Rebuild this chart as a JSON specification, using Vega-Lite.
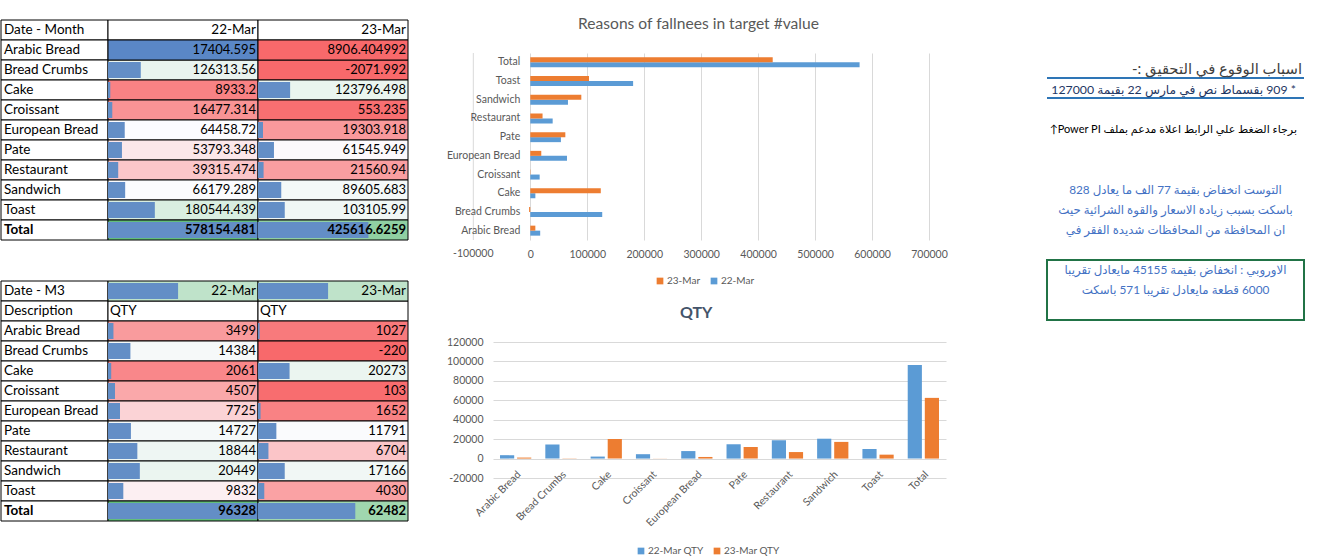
{
  "$schema": "https://vega.github.io/schema/vega-lite/v6.json",
  "background": "white",
  "padding": {"left": 0, "top": 15, "right": 0, "bottom": 0},
  "config": {
    "view": {"stroke": null},
    "font": "Lato"
  },
  "datasets": {
    "t1": [
      {"item": "Arabic Bread", "col": "22-Mar", "value": 17404.595},
      {"item": "Arabic Bread", "col": "23-Mar", "value": 8906.404992},
      {"item": "Bread Crumbs", "col": "22-Mar", "value": 126313.56},
      {"item": "Bread Crumbs", "col": "23-Mar", "value": -2071.992},
      {"item": "Cake", "col": "22-Mar", "value": 8933.2},
      {"item": "Cake", "col": "23-Mar", "value": 123796.498},
      {"item": "Croissant", "col": "22-Mar", "value": 16477.314},
      {"item": "Croissant", "col": "23-Mar", "value": 553.235},
      {"item": "European Bread", "col": "22-Mar", "value": 64458.72},
      {"item": "European Bread", "col": "23-Mar", "value": 19303.918},
      {"item": "Pate", "col": "22-Mar", "value": 53793.348},
      {"item": "Pate", "col": "23-Mar", "value": 61545.949},
      {"item": "Restaurant", "col": "22-Mar", "value": 39315.474},
      {"item": "Restaurant", "col": "23-Mar", "value": 21560.94},
      {"item": "Sandwich", "col": "22-Mar", "value": 66179.289},
      {"item": "Sandwich", "col": "23-Mar", "value": 89605.683},
      {"item": "Toast", "col": "22-Mar", "value": 180544.439},
      {"item": "Toast", "col": "23-Mar", "value": 103105.99},
      {"item": "Total", "col": "22-Mar", "value": 578154.481},
      {"item": "Total", "col": "23-Mar", "value": 425616.6259}
    ],
    "t1h": [
      {"item": "Date - Month", "col": "22-Mar", "label": "22-Mar"},
      {"item": "Date - Month", "col": "23-Mar", "label": "23-Mar"}
    ],
    "t2": [
      {"item": "Arabic Bread", "col": "22-Mar", "value": 3499},
      {"item": "Arabic Bread", "col": "23-Mar", "value": 1027},
      {"item": "Bread Crumbs", "col": "22-Mar", "value": 14384},
      {"item": "Bread Crumbs", "col": "23-Mar", "value": -220},
      {"item": "Cake", "col": "22-Mar", "value": 2061},
      {"item": "Cake", "col": "23-Mar", "value": 20273},
      {"item": "Croissant", "col": "22-Mar", "value": 4507},
      {"item": "Croissant", "col": "23-Mar", "value": 103},
      {"item": "European Bread", "col": "22-Mar", "value": 7725},
      {"item": "European Bread", "col": "23-Mar", "value": 1652},
      {"item": "Pate", "col": "22-Mar", "value": 14727},
      {"item": "Pate", "col": "23-Mar", "value": 11791},
      {"item": "Restaurant", "col": "22-Mar", "value": 18844},
      {"item": "Restaurant", "col": "23-Mar", "value": 6704},
      {"item": "Sandwich", "col": "22-Mar", "value": 20449},
      {"item": "Sandwich", "col": "23-Mar", "value": 17166},
      {"item": "Toast", "col": "22-Mar", "value": 9832},
      {"item": "Toast", "col": "23-Mar", "value": 4030},
      {"item": "Total", "col": "22-Mar", "value": 96328},
      {"item": "Total", "col": "23-Mar", "value": 62482}
    ],
    "t2h": [
      {"item": "Date - M3", "col": "22-Mar", "label": "22-Mar", "serial": 45007},
      {"item": "Date - M3", "col": "23-Mar", "label": "23-Mar", "serial": 45008},
      {"item": "Description", "col": "22-Mar", "label": "QTY"},
      {"item": "Description", "col": "23-Mar", "label": "QTY"}
    ],
    "notes": [
      {"row": 4, "kind": "heading", "text": "\u202bاسباب الوقوع في التحقيق :-\u202c"},
      {"row": 5, "kind": "claim", "text": "\u202b* 909 بقسماط نص في مارس 22 بقيمة 127000\u202c"},
      {"row": 7, "kind": "hint", "text": "\u202bبرجاء الضغط علي الرابط اعلاة مدعم بملف  Power PI↑\u202c"},
      {"row": 10, "kind": "note", "text": "\u202bالتوست انخفاض بقيمة 77 الف ما يعادل 828\u202c"},
      {"row": 11, "kind": "note", "text": "\u202bباسكت بسبب زيادة الاسعار والقوة الشرائية حيث\u202c"},
      {"row": 12, "kind": "note", "text": "\u202bان المحافظة من المحافظات شديدة الفقر في\u202c"},
      {"row": 14, "kind": "finding", "text": "\u202bالاوروبي :  انخفاض بقيمة 45155 مايعادل تقريبا\u202c"},
      {"row": 15, "kind": "finding", "text": "\u202b6000 قطعة مايعادل تقريبا 571 باسكت\u202c"}
    ]
  },
  "hconcat": [
    {
      "hconcat": [
        {
          "vconcat": [
            {
              "hconcat": [
                {
                  "width": 107, "height": 225,
                  "encoding": {"y": {"field": "item", "type": "ordinal", "axis": null, "scale": {"domain": ["Date - Month", "Arabic Bread", "Bread Crumbs", "Cake", "Croissant", "European Bread", "Pate", "Restaurant", "Sandwich", "Toast", "Total"], "paddingInner": 0, "paddingOuter": 0.125, "align": 1}}},
                  "layer": [
                    {"data": {"name": "t1h"}, "transform": [{"filter": "datum.col === '22-Mar'"}], "mark": {"type": "rect", "fill": "white", "stroke": "black", "strokeWidth": 1}},
                    {"data": {"name": "t1"}, "transform": [{"filter": "datum.col === '22-Mar'"}], "mark": {"type": "rect", "fill": "white", "stroke": "black", "strokeWidth": 1}},
                    {"data": {"name": "t1h"}, "transform": [{"filter": "datum.col === '22-Mar'"}], "mark": {"type": "text", "align": "left", "dx": 3, "fontSize": 13.5, "color": "black"}, "encoding": {"x": {"value": 0}, "text": {"field": "item", "type": "nominal"}}},
                    {"data": {"name": "t1"}, "transform": [{"filter": "datum.col === '22-Mar'"}], "mark": {"type": "text", "align": "left", "dx": 3, "fontSize": 13.5, "color": "black", "fontWeight": {"expr": "datum.item === 'Total' ? 'bold' : 'normal'"}}, "encoding": {"x": {"value": 0}, "text": {"field": "item", "type": "nominal"}}}
                  ]
                },
                {
                  "width": 150, "height": 225,
                  "encoding": {"y": {"field": "item", "type": "ordinal", "axis": null, "scale": {"domain": ["Date - Month", "Arabic Bread", "Bread Crumbs", "Cake", "Croissant", "European Bread", "Pate", "Restaurant", "Sandwich", "Toast", "Total"], "paddingInner": 0, "paddingOuter": 0.125, "align": 1}}},
                  "layer": [
                    {"data": {"name": "t1h"}, "transform": [{"filter": "datum.col === '22-Mar'"}], "mark": {"type": "rect", "fill": "white", "stroke": "black", "strokeWidth": 1}},
                    {"data": {"name": "t1"}, "transform": [{"filter": "datum.col === '22-Mar' && datum.item !== 'Arabic Bread'"}], "mark": {"type": "rect", "stroke": "black", "strokeWidth": 1}, "encoding": {"fill": {"field": "value", "type": "quantitative", "legend": null, "scale": {"domain": [-2071.992, 63001.5, 578154.481], "range": ["#F8696B", "#FCFCFF", "#63BE7B"], "interpolate": "rgb"}}}},
                    {"data": {"name": "t1"}, "transform": [{"filter": "datum.col === '22-Mar' && datum.item === 'Arabic Bread'"}], "mark": {"type": "rect", "fill": "#5A87C6", "stroke": "black", "strokeWidth": 1}},
                    {"data": {"name": "t1"}, "transform": [{"filter": "datum.col === '22-Mar' && datum.item !== 'Arabic Bread'"}], "mark": {"type": "bar", "fill": "#638EC6", "height": {"band": 0.8}}, "encoding": {"x": {"field": "value", "type": "quantitative", "axis": null, "scale": {"domain": [0, 578154.481], "clamp": true, "nice": false, "zero": false}}}},
                    {"data": {"name": "t1h"}, "transform": [{"filter": "datum.col === '22-Mar'"}], "mark": {"type": "text", "align": "right", "dx": -2, "fontSize": 13.5, "color": "black"}, "encoding": {"x": {"value": "width"}, "text": {"field": "label", "type": "nominal"}}},
                    {"data": {"name": "t1"}, "transform": [{"filter": "datum.col === '22-Mar'"}], "mark": {"type": "text", "align": "right", "dx": -2, "fontSize": 13, "color": "black", "fontWeight": {"expr": "datum.item === 'Total' ? 'bold' : 'normal'"}}, "encoding": {"x": {"value": "width"}, "text": {"field": "value", "type": "nominal"}}}
                  ]
                },
                {
                  "width": 150, "height": 225,
                  "encoding": {"y": {"field": "item", "type": "ordinal", "axis": null, "scale": {"domain": ["Date - Month", "Arabic Bread", "Bread Crumbs", "Cake", "Croissant", "European Bread", "Pate", "Restaurant", "Sandwich", "Toast", "Total"], "paddingInner": 0, "paddingOuter": 0.125, "align": 1}}},
                  "layer": [
                    {"data": {"name": "t1h"}, "transform": [{"filter": "datum.col === '23-Mar'"}], "mark": {"type": "rect", "fill": "white", "stroke": "black", "strokeWidth": 1}},
                    {"data": {"name": "t1"}, "transform": [{"filter": "datum.col === '23-Mar' && datum.item !== 'Arabic Bread'"}], "mark": {"type": "rect", "stroke": "black", "strokeWidth": 1}, "encoding": {"fill": {"field": "value", "type": "quantitative", "legend": null, "scale": {"domain": [-2071.992, 63001.5, 578154.481], "range": ["#F8696B", "#FCFCFF", "#63BE7B"], "interpolate": "rgb"}}}},
                    {"data": {"name": "t1"}, "transform": [{"filter": "datum.col === '23-Mar' && datum.item === 'Arabic Bread'"}], "mark": {"type": "rect", "fill": "#F8696B", "stroke": "black", "strokeWidth": 1}},
                    {"data": {"name": "t1"}, "transform": [{"filter": "datum.col === '23-Mar' && datum.item !== 'Arabic Bread'"}], "mark": {"type": "bar", "fill": "#638EC6", "height": {"band": 0.8}}, "encoding": {"x": {"field": "value", "type": "quantitative", "axis": null, "scale": {"domain": [0, 578154.481], "clamp": true, "nice": false, "zero": false}}}},
                    {"data": {"name": "t1h"}, "transform": [{"filter": "datum.col === '23-Mar'"}], "mark": {"type": "text", "align": "right", "dx": -2, "fontSize": 13.5, "color": "black"}, "encoding": {"x": {"value": "width"}, "text": {"field": "label", "type": "nominal"}}},
                    {"data": {"name": "t1"}, "transform": [{"filter": "datum.col === '23-Mar'"}], "mark": {"type": "text", "align": "right", "dx": -2, "fontSize": 13, "color": "black", "fontWeight": {"expr": "datum.item === 'Total' ? 'bold' : 'normal'"}}, "encoding": {"x": {"value": "width"}, "text": {"field": "value", "type": "nominal"}}}
                  ]
                }
              ],
              "spacing": 0,
              "bounds": "flush",
              "resolve": {"scale": {"x": "independent", "y": "independent", "color": "independent", "fill": "independent"}, "legend": {"color": "independent", "fill": "independent"}}
            },
            {
              "hconcat": [
                {
                  "width": 107, "height": 240,
                  "encoding": {"y": {"field": "item", "type": "ordinal", "axis": null, "scale": {"domain": ["Date - M3", "Description", "Arabic Bread", "Bread Crumbs", "Cake", "Croissant", "European Bread", "Pate", "Restaurant", "Sandwich", "Toast", "Total"], "paddingInner": 0, "paddingOuter": 0}}},
                  "layer": [
                    {"data": {"name": "t2h"}, "transform": [{"filter": "datum.col === '22-Mar'"}], "mark": {"type": "rect", "fill": "white", "stroke": "black", "strokeWidth": 1}},
                    {"data": {"name": "t2"}, "transform": [{"filter": "datum.col === '22-Mar'"}], "mark": {"type": "rect", "fill": "white", "stroke": "black", "strokeWidth": 1}},
                    {"data": {"name": "t2h"}, "transform": [{"filter": "datum.col === '22-Mar'"}], "mark": {"type": "text", "align": "left", "dx": 3, "fontSize": 13.5, "color": "black"}, "encoding": {"x": {"value": 0}, "text": {"field": "item", "type": "nominal"}}},
                    {"data": {"name": "t2"}, "transform": [{"filter": "datum.col === '22-Mar'"}], "mark": {"type": "text", "align": "left", "dx": 3, "fontSize": 13.5, "color": "black", "fontWeight": {"expr": "datum.item === 'Total' ? 'bold' : 'normal'"}}, "encoding": {"x": {"value": 0}, "text": {"field": "item", "type": "nominal"}}}
                  ]
                },
                {
                  "width": 150, "height": 240,
                  "encoding": {"y": {"field": "item", "type": "ordinal", "axis": null, "scale": {"domain": ["Date - M3", "Description", "Arabic Bread", "Bread Crumbs", "Cake", "Croissant", "European Bread", "Pate", "Restaurant", "Sandwich", "Toast", "Total"], "paddingInner": 0, "paddingOuter": 0}}},
                  "layer": [
                    {"data": {"name": "t2h"}, "transform": [{"filter": "datum.col === '22-Mar' && !isValid(datum.serial)"}], "mark": {"type": "rect", "fill": "white", "stroke": "black", "strokeWidth": 1}},
                    {"data": {"name": "t2h"}, "transform": [{"filter": "datum.col === '22-Mar' && isValid(datum.serial)"}], "mark": {"type": "rect", "stroke": "black", "strokeWidth": 1}, "encoding": {"fill": {"field": "serial", "type": "quantitative", "legend": null, "scale": {"domain": [-220, 10811.5, 96328], "range": ["#F8696B", "#FCFCFF", "#63BE7B"], "interpolate": "rgb"}}}},
                    {"data": {"name": "t2"}, "transform": [{"filter": "datum.col === '22-Mar'"}], "mark": {"type": "rect", "stroke": "black", "strokeWidth": 1}, "encoding": {"fill": {"field": "value", "type": "quantitative", "legend": null, "scale": {"domain": [-220, 10811.5, 96328], "range": ["#F8696B", "#FCFCFF", "#63BE7B"], "interpolate": "rgb"}}}},
                    {"data": {"name": "t2h"}, "transform": [{"filter": "datum.col === '22-Mar' && isValid(datum.serial)"}], "mark": {"type": "bar", "fill": "#638EC6", "height": {"band": 0.8}}, "encoding": {"x": {"field": "serial", "type": "quantitative", "axis": null, "scale": {"domain": [0, 96328], "clamp": true, "nice": false, "zero": false}}}},
                    {"data": {"name": "t2"}, "transform": [{"filter": "datum.col === '22-Mar'"}], "mark": {"type": "bar", "fill": "#638EC6", "height": {"band": 0.8}}, "encoding": {"x": {"field": "value", "type": "quantitative", "axis": null, "scale": {"domain": [0, 96328], "clamp": true, "nice": false, "zero": false}}}},
                    {"data": {"name": "t2h"}, "transform": [{"filter": "datum.col === '22-Mar' && isValid(datum.serial)"}], "mark": {"type": "text", "align": "right", "dx": -2, "fontSize": 13.5, "color": "black"}, "encoding": {"x": {"value": "width"}, "text": {"field": "label", "type": "nominal"}}},
                    {"data": {"name": "t2h"}, "transform": [{"filter": "datum.col === '22-Mar' && !isValid(datum.serial)"}], "mark": {"type": "text", "align": "left", "dx": 2, "fontSize": 13.5, "color": "black"}, "encoding": {"x": {"value": 0}, "text": {"field": "label", "type": "nominal"}}},
                    {"data": {"name": "t2"}, "transform": [{"filter": "datum.col === '22-Mar'"}], "mark": {"type": "text", "align": "right", "dx": -2, "fontSize": 13, "color": "black", "fontWeight": {"expr": "datum.item === 'Total' ? 'bold' : 'normal'"}}, "encoding": {"x": {"value": "width"}, "text": {"field": "value", "type": "nominal"}}}
                  ]
                },
                {
                  "width": 150, "height": 240,
                  "encoding": {"y": {"field": "item", "type": "ordinal", "axis": null, "scale": {"domain": ["Date - M3", "Description", "Arabic Bread", "Bread Crumbs", "Cake", "Croissant", "European Bread", "Pate", "Restaurant", "Sandwich", "Toast", "Total"], "paddingInner": 0, "paddingOuter": 0}}},
                  "layer": [
                    {"data": {"name": "t2h"}, "transform": [{"filter": "datum.col === '23-Mar' && !isValid(datum.serial)"}], "mark": {"type": "rect", "fill": "white", "stroke": "black", "strokeWidth": 1}},
                    {"data": {"name": "t2h"}, "transform": [{"filter": "datum.col === '23-Mar' && isValid(datum.serial)"}], "mark": {"type": "rect", "stroke": "black", "strokeWidth": 1}, "encoding": {"fill": {"field": "serial", "type": "quantitative", "legend": null, "scale": {"domain": [-220, 10811.5, 96328], "range": ["#F8696B", "#FCFCFF", "#63BE7B"], "interpolate": "rgb"}}}},
                    {"data": {"name": "t2"}, "transform": [{"filter": "datum.col === '23-Mar'"}], "mark": {"type": "rect", "stroke": "black", "strokeWidth": 1}, "encoding": {"fill": {"field": "value", "type": "quantitative", "legend": null, "scale": {"domain": [-220, 10811.5, 96328], "range": ["#F8696B", "#FCFCFF", "#63BE7B"], "interpolate": "rgb"}}}},
                    {"data": {"name": "t2h"}, "transform": [{"filter": "datum.col === '23-Mar' && isValid(datum.serial)"}], "mark": {"type": "bar", "fill": "#638EC6", "height": {"band": 0.8}}, "encoding": {"x": {"field": "serial", "type": "quantitative", "axis": null, "scale": {"domain": [0, 96328], "clamp": true, "nice": false, "zero": false}}}},
                    {"data": {"name": "t2"}, "transform": [{"filter": "datum.col === '23-Mar'"}], "mark": {"type": "bar", "fill": "#638EC6", "height": {"band": 0.8}}, "encoding": {"x": {"field": "value", "type": "quantitative", "axis": null, "scale": {"domain": [0, 96328], "clamp": true, "nice": false, "zero": false}}}},
                    {"data": {"name": "t2h"}, "transform": [{"filter": "datum.col === '23-Mar' && isValid(datum.serial)"}], "mark": {"type": "text", "align": "right", "dx": -2, "fontSize": 13.5, "color": "black"}, "encoding": {"x": {"value": "width"}, "text": {"field": "label", "type": "nominal"}}},
                    {"data": {"name": "t2h"}, "transform": [{"filter": "datum.col === '23-Mar' && !isValid(datum.serial)"}], "mark": {"type": "text", "align": "left", "dx": 2, "fontSize": 13.5, "color": "black"}, "encoding": {"x": {"value": 0}, "text": {"field": "label", "type": "nominal"}}},
                    {"data": {"name": "t2"}, "transform": [{"filter": "datum.col === '23-Mar'"}], "mark": {"type": "text", "align": "right", "dx": -2, "fontSize": 13, "color": "black", "fontWeight": {"expr": "datum.item === 'Total' ? 'bold' : 'normal'"}}, "encoding": {"x": {"value": "width"}, "text": {"field": "value", "type": "nominal"}}}
                  ]
                }
              ],
              "spacing": 0,
              "bounds": "flush",
              "resolve": {"scale": {"x": "independent", "y": "independent", "color": "independent", "fill": "independent"}, "legend": {"color": "independent", "fill": "independent"}}
            }
          ],
          "spacing": 39,
          "resolve": {"scale": {"x": "independent", "y": "independent", "color": "independent", "fill": "independent"}, "legend": {"color": "independent", "fill": "independent"}}
        },
        {
          "vconcat": [
            {
              "width": 411, "height": 18,
              "data": {"values": [{"heading": "Reasons of fallnees in target #value"}]},
              "mark": {"type": "text", "fontSize": 15.6, "color": "#595959", "baseline": "middle"},
              "encoding": {"text": {"field": "heading", "type": "nominal"}}
            },
            {
              "width": 436, "height": 187,
              "data": {"name": "t1"},
              "encoding": {
                "y": {"field": "item", "type": "nominal", "scale": {"domain": ["Total", "Toast", "Sandwich", "Restaurant", "Pate", "European Bread", "Croissant", "Cake", "Bread Crumbs", "Arabic Bread"], "paddingInner": 0.465, "paddingOuter": 0.2325}, "axis": null}
              },
              "layer": [
                {
                  "data": {"values": [{"tick": -100000}]},
                  "mark": {"type": "rule", "color": "#d9d9d9"},
                  "encoding": {"x": {"field": "tick", "type": "quantitative"}, "y": {"value": 0}, "y2": {"value": "height"}}
                },
                {
                  "data": {"values": [{"tick": -100000}]},
                  "mark": {"type": "text", "baseline": "top", "dy": 9, "fontSize": 10.5, "color": "#595959"},
                  "encoding": {"x": {"field": "tick", "type": "quantitative"}, "y": {"value": "height"}, "text": {"field": "tick", "type": "nominal"}}
                },
                {
                  "mark": {"type": "bar"},
                  "encoding": {
                    "yOffset": {"field": "col", "type": "nominal", "sort": ["23-Mar", "22-Mar"]},
                    "x": {"field": "value", "type": "quantitative", "scale": {"domain": [-65439, 700000], "nice": false, "zero": false}, "axis": {"title": null, "values": [0, 100000, 200000, 300000, 400000, 500000, 600000, 700000], "labelExpr": "'' + datum.value", "grid": true, "gridColor": "#d9d9d9", "domain": false, "ticks": false, "tickSize": 0, "labelPadding": 9, "labelColor": "#595959", "labelFontSize": 10.5, "labelFlush": false, "labelOverlap": false}},
                    "color": {"field": "col", "type": "nominal", "scale": {"domain": ["23-Mar", "22-Mar"], "range": ["#ED7D31", "#5B9BD5"]}, "legend": {"title": null, "orient": "none", "legendX": 162, "legendY": 223, "direction": "horizontal", "symbolType": "square", "symbolSize": 45, "labelFontSize": 10, "labelColor": "#595959", "labelOffset": 2, "columnPadding": 8}}
                  }
                },
                {
                  "transform": [{"filter": "datum.col === '22-Mar'"}],
                  "mark": {"type": "text", "align": "right", "dx": -10, "fontSize": 10.5, "color": "#595959"},
                  "encoding": {"x": {"datum": 0}, "text": {"field": "item", "type": "nominal"}}
                }
              ]
            },
            {
              "width": 453, "height": 136,
              "data": {"name": "t2"},
              "title": {"text": "QTY", "fontSize": 16, "fontWeight": "bold", "color": "#44546A", "offset": 16, "frame": "bounds"},
              "mark": {"type": "bar"},
              "encoding": {
                "x": {"field": "item", "type": "nominal", "sort": ["Arabic Bread", "Bread Crumbs", "Cake", "Croissant", "European Bread", "Pate", "Restaurant", "Sandwich", "Toast", "Total"], "scale": {"paddingInner": 0.31, "paddingOuter": 0.155}, "axis": {"title": null, "labelAngle": -45, "domain": false, "ticks": false, "tickSize": 0, "labelPadding": -9, "labelColor": "#595959", "labelFontSize": 10.5}},
                "xOffset": {"field": "col", "type": "nominal", "sort": ["22-Mar", "23-Mar"], "scale": {"paddingInner": 0.17}},
                "y": {"field": "value", "type": "quantitative", "scale": {"domain": [-20000, 120000], "nice": false}, "axis": {"title": null, "values": [-20000, 0, 20000, 40000, 60000, 80000, 100000, 120000], "labelExpr": "'' + datum.value", "grid": true, "gridColor": "#d9d9d9", "domain": false, "ticks": false, "tickSize": 0, "labelPadding": 10, "labelColor": "#595959", "labelFontSize": 10.5}},
                "color": {"field": "col", "type": "nominal", "scale": {"domain": ["22-Mar", "23-Mar"], "range": ["#5B9BD5", "#ED7D31"]}, "legend": {"title": null, "orient": "none", "legendX": 143, "legendY": 204, "direction": "horizontal", "symbolType": "square", "symbolSize": 45, "labelFontSize": 10, "labelColor": "#595959", "labelOffset": 2, "columnPadding": 8, "labelExpr": "datum.label + ' QTY'"}}
              }
            }
          ],
          "spacing": 19,
          "resolve": {"scale": {"x": "independent", "y": "independent", "color": "independent", "fill": "independent"}, "legend": {"color": "independent", "fill": "independent"}}
        }
      ],
      "spacing": 37,
      "resolve": {"scale": {"x": "independent", "y": "independent", "color": "independent", "fill": "independent"}, "legend": {"color": "independent", "fill": "independent"}}
    },
    {
      "width": 257, "height": 305,
      "data": {"name": "notes"},
      "encoding": {"y": {"field": "row", "type": "ordinal", "axis": null, "scale": {"domain": [2, 3, 4, 5, 6, 7, 8, 9, 10, 11, 12, 13, 14, 15, 16], "paddingInner": 0, "paddingOuter": 0.125, "align": 1}}},
      "layer": [
        {"data": {"values": [{"from": 14, "to": 16}]}, "mark": {"type": "rect", "filled": false, "stroke": "#217346", "strokeWidth": 2}, "encoding": {"y": {"field": "from", "type": "ordinal", "bandPosition": 0}, "y2": {"field": "to", "bandPosition": 1}}},
        {"data": {"values": [{"row": 4}, {"row": 5}]}, "mark": {"type": "rule", "stroke": "#2E75B6", "strokeWidth": 2, "yOffset": -2}, "encoding": {"y": {"field": "row", "type": "ordinal", "bandPosition": 1}}},
        {"transform": [{"filter": "datum.kind === 'heading'"}], "mark": {"type": "text", "align": "right", "dx": -2, "font": "Lato, DejaVu Sans", "fontSize": 14.8, "color": "#404040"}, "encoding": {"x": {"value": "width"}, "text": {"field": "text", "type": "nominal"}}},
        {"transform": [{"filter": "datum.kind === 'claim'"}], "mark": {"type": "text", "align": "right", "dx": -8, "font": "Lato, DejaVu Sans", "fontSize": 12.3, "color": "#1F3864"}, "encoding": {"x": {"value": "width"}, "text": {"field": "text", "type": "nominal"}}},
        {"transform": [{"filter": "datum.kind === 'hint'"}], "mark": {"type": "text", "align": "right", "dx": -7, "font": "Lato, DejaVu Sans", "fontSize": 11, "color": "black"}, "encoding": {"x": {"value": "width"}, "text": {"field": "text", "type": "nominal"}}},
        {"transform": [{"filter": "datum.kind === 'note' || datum.kind === 'finding'"}], "mark": {"type": "text", "align": "center", "font": "Lato, DejaVu Sans", "fontSize": 11.8, "color": "#4472C4"}, "encoding": {"text": {"field": "text", "type": "nominal"}}}
      ]
    }
  ],
  "spacing": 98,
  "resolve": {"scale": {"x": "independent", "y": "independent", "color": "independent", "fill": "independent"}, "legend": {"color": "independent", "fill": "independent"}}
}
